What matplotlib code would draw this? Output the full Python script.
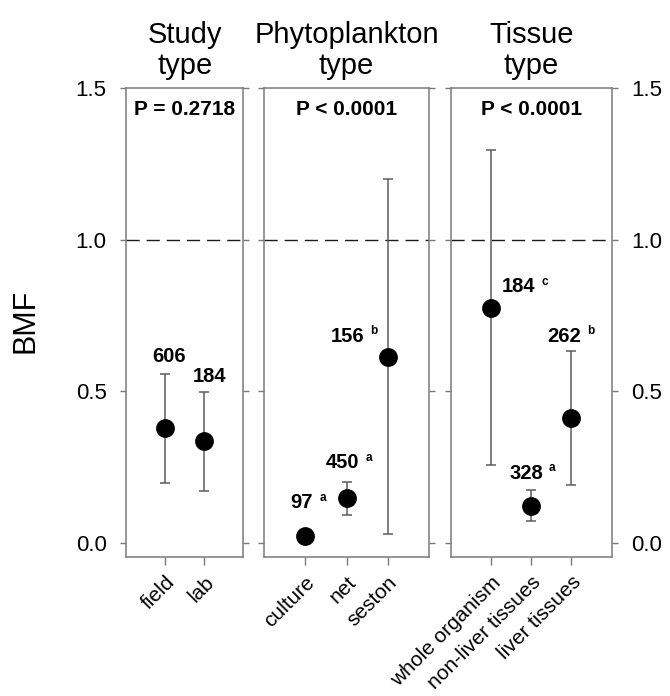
import matplotlib.pyplot as plt

plt.rcParams['font.family'] = ['Liberation Sans', 'DejaVu Sans']

# ── Data ─────────────────────────────────────────────────────
panel_titles = ['Study\ntype', 'Phytoplankton\ntype', 'Tissue\ntype']
p_values     = ['P = 0.2718', 'P < 0.0001', 'P < 0.0001']

study_cats  = ['field', 'lab']
study_mean  = [0.377, 0.336]
study_lo    = [0.197, 0.171]
study_hi    = [0.558, 0.496]
study_n     = ['606', '184']
study_grp   = ['', '']

phyto_cats  = ['culture', 'net', 'seston']
phyto_mean  = [0.021, 0.146, 0.613]
phyto_lo    = [0.021, 0.090, 0.029]
phyto_hi    = [0.021, 0.201, 1.199]
phyto_n     = ['97', '450', '156']
phyto_grp   = ['a', 'a', 'b']

tissue_cats = ['whole organism', 'non-liver tissues', 'liver tissues']
tissue_mean = [0.775, 0.121, 0.412]
tissue_lo   = [0.255, 0.073, 0.190]
tissue_hi   = [1.297, 0.173, 0.633]
tissue_n    = ['184', '328', '262']
tissue_grp  = ['c', 'a', 'b']

# ── Layout / style ───────────────────────────────────────────
# label offsets from the mean marker (points, dx / dy of number centre)
study_off  = [(2.9, 52.0), (4.1, 46.6)]
phyto_off  = [(-2.4, 24.2), (-3.1, 25.6), (-29.0, 14.9)]
tissue_off = [(19.9, 15.1), (-3.8, 23.5), (-5.0, 58.8)]

W, H = 670, 696
boxes = [(126, 243.3), (264, 429), (450.7, 611.7)]   # pixel x-extent of panels
TOP, BOTTOM = 88, 556.7
SPINE = '#7a7a7a'
BAR = '#5c5c5c'

panels = [
    (study_cats,  study_mean,  study_lo,  study_hi,  study_n,  study_grp,  study_off),
    (phyto_cats,  phyto_mean,  phyto_lo,  phyto_hi,  phyto_n,  phyto_grp,  phyto_off),
    (tissue_cats, tissue_mean, tissue_lo, tissue_hi, tissue_n, tissue_grp, tissue_off),
]

fig = plt.figure(figsize=(W / 100, H / 100), dpi=100)

for i, (cats, mean, lo, hi, ns, grp, off) in enumerate(panels):
    x0, x1 = boxes[i]
    ax = fig.add_axes([x0 / W, 1 - BOTTOM / H, (x1 - x0) / W, (BOTTOM - TOP) / H])
    xs = list(range(1, len(cats) + 1))

    yerr = [[m - l for m, l in zip(mean, lo)], [h - m for m, h in zip(mean, hi)]]
    ax.errorbar(xs, mean, yerr=yerr, fmt='none', ecolor=BAR, elinewidth=1.1,
                capsize=3.8, capthick=1.1, zorder=2)
    ax.plot(xs, mean, 'o', color='black', markersize=12.5, zorder=3)

    ax.axhline(1.0, color='#1a1a1a', lw=1.0, dashes=(9.5, 5), zorder=1)

    for x, m, n, g, (dx, dy) in zip(xs, mean, ns, grp, off):
        t = ax.annotate(n, xy=(x, m), xytext=(dx, dy), textcoords='offset points',
                        ha='center', va='center', fontsize=14.5, fontweight='bold')
        if g:
            ax.annotate(g, xy=(1, 0.5), xycoords=t, xytext=(4.5, 1.5),
                        textcoords='offset points', ha='left', va='baseline',
                        fontsize=8.5, fontweight='bold')

    ax.text(0.5, 0.955, p_values[i], transform=ax.transAxes, ha='center',
            va='center', fontsize=15, fontweight='bold')
    ax.set_title(panel_titles[i], fontsize=21, pad=10, linespacing=1.12)

    ax.set_xlim(0, len(cats) + 1)
    ax.set_ylim(-0.046, 1.5)
    ax.set_xticks(xs)
    ax.set_xticklabels(cats, rotation=45, ha='right', va='top',
                       rotation_mode='anchor', fontsize=15)
    ax.set_yticks([0.0, 0.5, 1.0, 1.5])
    ax.set_yticklabels(['0.0', '0.5', '1.0', '1.5'])
    ax.tick_params(axis='x', direction='out', length=5.5, width=1, color=SPINE, pad=6)
    ax.tick_params(axis='y', direction='out', length=4.5, width=1, color=SPINE,
                   labelsize=16, pad=9.5, left=True, right=True,
                   labelleft=(i == 0), labelright=(i == 2))
    for s in ax.spines.values():
        s.set_color(SPINE)
        s.set_linewidth(1.1)

fig.text(25.7 / W, 1 - 321 / H, 'BMF', rotation=90, fontsize=22,
         ha='center', va='center')

fig.savefig('out.png', dpi=100)
